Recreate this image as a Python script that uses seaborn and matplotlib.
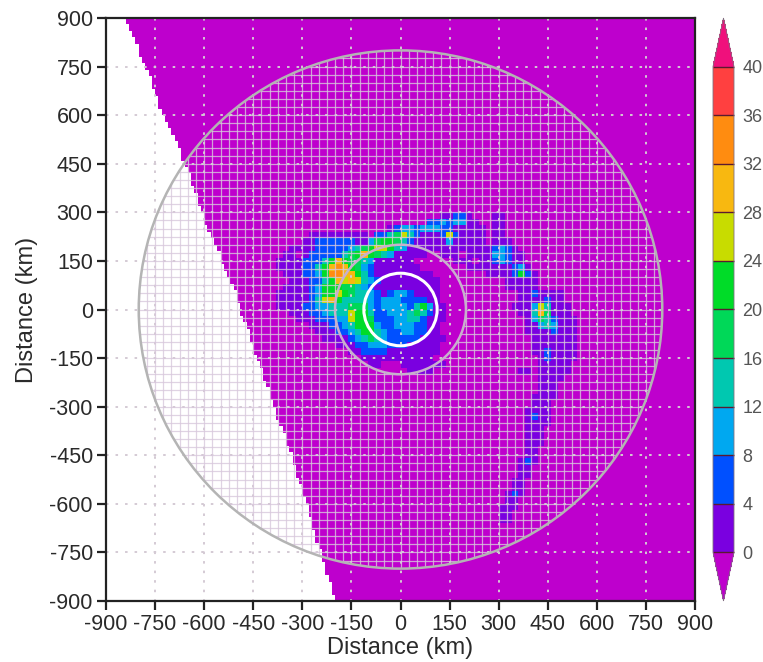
import numpy as np
import pandas as pd
import matplotlib
matplotlib.use('Agg')
import matplotlib.pyplot as plt
import seaborn as sns
from matplotlib.colors import ListedColormap, BoundaryNorm
from matplotlib.patches import Ellipse, PathPatch
from matplotlib.path import Path

# rain levels (colorbar) and their colours
levels = [0, 4, 8, 12, 16, 20, 24, 28, 32, 36, 40]
level_colors = ['#7a00e0', '#0050ff', '#00a8f0', '#00c8b0', '#00d858',
                '#00dc28', '#c8dc00', '#f8b810', '#ff8c10', '#ff4040']
under_color = '#be00cd'
over_color = '#f0107c'
tick_km = [-900, -750, -600, -450, -300, -150, 0, 150, 300, 450, 600, 750, 900]

# rain rate, one string per 20 km row (y from 300 km down),
# one char per 20 km column (x from -400 km)
rain_rate_by_code = {'.': -1, '1': 2, '2': 6, '3': 10, '4': 14, '5': 18, '6': 22,
                     '7': 26, '8': 30, '9': 34, 'a': 38}
rain_rows = [
    "..........................11221...11",
    "........................22323311..11",
    "..................123323332211111.11",
    "......111111111.22457421112721111.11",
    ".....11222222113566542" + "11111" + "3" + "11111" + "." + "111",
    "...111122222345677643" + "1111111111111" + "2321",
    "..11.122222" + "45686543" + "11111" + ".." + "111" + "." + "1111" + "332" + "11",
    ".1111222" + "46865543" + "111111" + "......" + "111" + "." + "11" + "232" + "11",
    ".111122468986532" + "1111111" + "......." + "1111111" + "231",
    "..11122369988642" + "111111111" + "........" + "11112" + "621",
    "...11122468787432" + "111111111" + ".........." + "11111",
    "..11112366655432" + "1111111111" + ".........." + "11111",
    ".11111236676544321233211" + "11" + "............" + "1121111",
    ".1111124786444432" + "33322221" + "1" + "............" + "1111211",
    ".11112233444555323333246311" + ".........." + "111374111",
    "...11122344476642233345421" + "1" + "..........." + "11485111",
    "....111222337665222" + "3344" + "2111" + "............" + "1354" + "2111",
    "......111223466632233322" + "11" + "............." + "113431" + "11",
    ".......1112234664322332211" + "............." + "11112111",
    "........1111234543222221111" + "............." + "1111111",
    "..........1112233322211111" + ".............." + "1111111",
    "............112222" + "1111111" + "1" + ".............." + "1121111",
    "..............11111111111" + "................" + "121111",
    "...............11...1111111" + ".............." + "11111",
    ".....................1111" + "............." + "11.11111",
    "........................................." + "1111",
    ".........................................111",
    ".........................................111",
    "........................................1111",
    "........................................111",
    ".......................................1111",
    ".......................................1211",
    ".......................................1111",
    ".......................................111",
    ".......................................111",
    ".......................................111",
    ".......................................11",
    ".......................................11",
    "......................................121",
    "......................................11",
    "......................................11",
    ".....................................11",
    ".....................................11",
    "....................................121",
    "....................................11",
    "...................................111",
    "...................................11",
    "...................................11",
]

# left edge of the satellite swath in km, one value per 20 km row from the top
swath_edge = [-838, -829, -821, -813, -805, -797, -788, -780, -772, -765, -758, -751,
              -743, -736, -729, -721, -712, -703, -692, -683, -674, -666, -656, -650,
              -642, -636, -629, -622, -615, -609, -602, -595, -588, -581, -572, -563,
              -554, -546, -536, -528, -519, -512, -505, -499, -492, -486, -479, -473,
              -465, -459, -452, -446, -439, -432, -424, -417, -410, -403, -396, -389,
              -382, -375, -368, -362, -354, -347, -339, -333, -327, -321, -315, -309,
              -302, -296, -290, -284, -278, -272, -266, -263, -257, -251, -245, -238,
              -232, -226, -220, -214, -208, -205]

# heatmap grid, 10 km wide and 20 km tall cells
nx, ny = 180, 90
field = np.full((ny, nx), -1.0)
for r, row in enumerate(rain_rows):
    for c, code in enumerate(row):
        field[30 + r, 50 + 2 * c:52 + 2 * c] = rain_rate_by_code[code]
for r, edge in enumerate(swath_edge):
    field[r, :int(round((edge + 900) / 10))] = np.nan
x_km = np.arange(-900, 900, 10)
y_km = 900 - 20 * np.arange(ny)
Data = pd.DataFrame(field, index=y_km, columns=x_km)


def km_x(v):
    return (np.asarray(v, dtype=float) + 900) / 10


def km_y(v):
    return (900 - np.asarray(v, dtype=float)) / 20


sns.set_style('ticks')
plt.rcParams['font.family'] = ['Liberation Sans', 'DejaVu Sans']

cmap = ListedColormap(level_colors)
cmap.set_under(under_color)
cmap.set_over(over_color)
norm = BoundaryNorm(levels, cmap.N)

W, H = 763, 662
fig = plt.figure(figsize=(W / 100, H / 100), dpi=100)
ax = fig.add_axes([106 / W, 1 - 601 / H, 589 / W, 583 / H])
cax = fig.add_axes([713 / W, 1 - 601 / H, 21 / W, 583 / H])

sns.heatmap(Data, ax=ax, cbar_ax=cax, cmap=cmap, norm=norm, xticklabels=False, yticklabels=False,
            cbar_kws={'extend': 'both', 'extendfrac': 0.1, 'ticks': levels, 'drawedges': True})
cb = ax.collections[0].colorbar
cb.dividers.set_color('#5a1a30')
cb.dividers.set_linewidth(1.0)
cb.outline.set_linewidth(0.6)
cb.outline.set_edgecolor('#807080')
cax.tick_params(length=0, labelsize=13, labelcolor='#555555', pad=6)

# annular mesh, 25 km spacing between the 200 km and 800 km circles
theta = np.linspace(0, 2 * np.pi, 361)
outer = np.column_stack([km_x(800 * np.cos(theta)), km_y(800 * np.sin(theta))])
inner = np.column_stack([km_x(200 * np.cos(theta)), km_y(200 * np.sin(theta))])[::-1]
annulus = PathPatch(Path.make_compound_path(Path(outer), Path(inner)), transform=ax.transData,
                    facecolor='none', edgecolor='none')
ax.add_patch(annulus)
mesh_km = np.arange(-800, 801, 25)
v = ax.vlines(km_x(mesh_km), 0, ny, color='#d8c8dc', lw=0.9, alpha=0.8, zorder=3)
h = ax.hlines(km_y(mesh_km), 0, nx, color='#d8c8dc', lw=0.9, alpha=0.8, zorder=3)
v.set_clip_path(annulus)
h.set_clip_path(annulus)

# dotted grid every 150 km
for t in tick_km[1:-1]:
    ax.plot([km_x(t)] * 2, [0, ny], color='#d4cad4', lw=1.4, ls=(0, (1.3, 3.6)), zorder=2.5)
    ax.plot([0, nx], [km_y(t)] * 2, color='#d4cad4', lw=1.4, ls=(0, (1.3, 3.6)), zorder=2.5)

# range circles
for radius, col, lw in [(800, '#b4b4b4', 1.8), (200, '#c8b0cc', 1.8), (112, 'white', 2.2)]:
    ax.add_patch(Ellipse((km_x(0), km_y(0)), 2 * radius / 10, 2 * radius / 20, fill=False,
                         edgecolor=col, lw=lw, zorder=4))

ax.set_xticks(km_x(tick_km))
ax.set_xticklabels([str(t) for t in tick_km], rotation=0)
ax.set_yticks(km_y(tick_km))
ax.set_yticklabels([str(t) for t in tick_km], rotation=0)
ax.tick_params(direction='out', length=6.5, width=1.6, labelsize=15.5, color='#222222',
               labelcolor='#2a2a2a', pad=3, bottom=True, left=True)
ax.set_xlabel('Distance (km)', fontsize=17, color='#2a2a2a', labelpad=1)
ax.set_ylabel('Distance (km)', fontsize=17, color='#2a2a2a', labelpad=8)
for s in ax.spines.values():
    s.set_visible(True)
    s.set_linewidth(1.6)
    s.set_color('#222222')
    s.set_zorder(6)

fig.savefig('out.png', dpi=100)
